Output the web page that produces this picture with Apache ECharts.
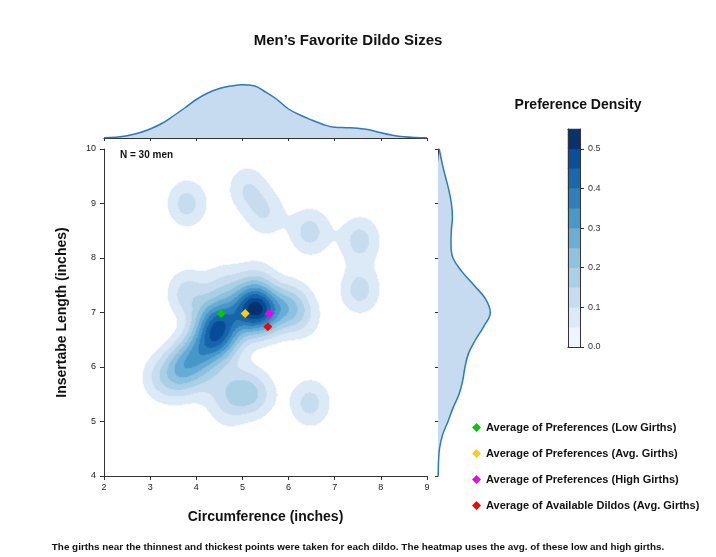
<!DOCTYPE html>
<html>
<head>
<meta charset="utf-8">
<title>Men’s Favorite Dildo Sizes</title>
<script src="https://cdn.jsdelivr.net/npm/echarts@6/dist/echarts.min.js"></script>
<style>
  html, body { margin: 0; padding: 0; background: #fff; }
  #chart { width: 716px; height: 557px; }
</style>
</head>
<body>
<div id="chart"></div>
<script>
// ---- values ----

// estimated responses: [girth (in), insertable length (in), weight]
const responses = [
  // isolated picks
  [3.8, 9.0, 2.2],
  [5.1, 9.28, 1.7],
  [5.5, 8.82, 1.7],
  [6.47, 8.48, 2.2],
  [7.55, 8.33, 2.2],
  [7.55, 7.41, 2.2],
  [6.47, 5.34, 2.2],
  // main cluster, right core
  [5.12, 7.05, 3.6],
  [5.48, 7.0, 3.6],
  [5.3, 7.1, 2.8],
  // left core
  [4.35, 6.87, 2.6],
  [4.6, 6.87, 2.6],
  [4.35, 6.5, 2.6],
  [4.6, 6.5, 2.6],
  // arm towards lower left
  [4.05, 6.25, 3],
  [3.7, 6.0, 3.2],
  [3.2, 5.8, 1.6],
  [3.6, 5.65, 0.8],
  // upper edge and right shoulder
  [3.8, 7.35, 2.2],
  [4.6, 7.5, 1.5],
  [5.3, 7.55, 1.5],
  [6.05, 7.1, 3.2],
  [6.4, 6.85, 0.8],
  // lower group
  [4.3, 5.7, 1],
  [4.9, 5.58, 2],
  [5.3, 5.5, 2],
  [4.65, 5.2, 1],
]
const sampleSize = 30
const bandwidth = 0.31

// marginal densities (relative), read at 0.25 in steps
const girthSteps = [2, 2.25, 2.5, 2.75, 3, 3.25, 3.5, 3.75, 4, 4.25, 4.5, 4.75, 5, 5.25, 5.5, 5.75,
  6, 6.25, 6.5, 6.75, 7, 7.25, 7.5, 7.75, 8, 8.25, 8.5, 8.75, 9]
const girthMarginal = [0.3, 0.8, 2.2, 5, 9, 14.5, 22, 30, 38.5, 45, 49.5, 52, 53.3, 52.3, 46, 38.5,
  29, 23, 18, 13.5, 10.7, 10.3, 9.8, 8.2, 5.2, 2.8, 1.2, 0.5, 0.3]
const lengthSteps = ['4', '4.25', '4.5', '4.75', '5', '5.25', '5.5', '5.75', '6', '6.25', '6.5', '6.75',
  '7', '7.25', '7.5', '7.75', '8', '8.25', '8.5', '8.75', '9', '9.25', '9.5', '9.75', '10']
const lengthMarginal = [0.2, 0.5, 1.5, 4.5, 10, 15, 21, 24.7, 27, 30.5, 37.5, 46,
  52.3, 47.5, 36, 24, 15, 13, 13.3, 14.4, 13.4, 10.8, 7.3, 4, 1.2]

// averages shown as diamonds
const averageNames = [
  'Average of Preferences (Low Girths)',
  'Average of Preferences (Avg. Girths)',
  'Average of Preferences (High Girths)',
  'Average of Available Dildos (Avg. Girths)',
]
const averageGirth = [4.54, 5.06, 5.58, 5.55]
const averageLength = [6.98, 6.98, 6.98, 6.74]
const averageColors = ['#00cc00', '#ffcc11', '#ee00ee', '#ff0000']

// density levels of the colour bar
const levelEdges = [0, 0.05, 0.1, 0.15, 0.2, 0.25, 0.3, 0.35, 0.4, 0.45, 0.5, 0.55]
const levelColors = ['#eef5fc', '#dce9f6', '#c8dcf0', '#abd0e6', '#8fc2de', '#6aaed6',
  '#4a98c9', '#2f7fbc', '#1967ad', '#0a4f99', '#08336e']
const colorbarTicks = [0, 0.1, 0.2, 0.3, 0.4, 0.5]
const threshold = 0.05

// ---- kde grid ----
const nx = 323
const ny = 327

function density(gx, gy) {
  let s = 0
  for (const [px, py, w] of responses) {
    const dx = gx - px
    const dy = gy - py
    s += w * Math.exp(-(dx * dx + dy * dy) / (2 * bandwidth * bandwidth))
  }
  return s / (sampleSize * 2 * Math.PI * bandwidth * bandwidth)
}

const heatData = []
for (let i = 0; i < nx; i++) {
  const gx = 2 + (i + 0.5) * 7 / nx
  for (let j = 0; j < ny; j++) {
    const gy = 4 + (j + 0.5) * 6 / ny
    const d = density(gx, gy)
    if (d >= threshold) heatData.push([i, j, d])
  }
}
const xCells = Array.from({ length: nx }, (_, i) => i)
const yCells = Array.from({ length: ny }, (_, j) => j)
const levelCells = levelColors.map((_, i) => i)
const colorbarData = levelColors.map((_, i) => [0, i, (levelEdges[i] + levelEdges[i + 1]) / 2])

const font = 'Liberation Sans, Arial, sans-serif'
const axisColor = '#333'
const lineBlue = '#2b7bba'
const fillBlue = '#c6dbef'

const hidden = { show: false }
const chart = echarts.init(document.getElementById('chart'))

const option = {
  animation: false,
  textStyle: { fontFamily: font },
  title: [
    { text: 'Men’s Favorite Dildo Sizes', left: 348, top: 33, textAlign: 'center', padding: 0,
      textStyle: { fontSize: 15, fontWeight: 'bold', color: '#111' } },
    { text: 'Preference Density', left: 578, top: 98, textAlign: 'center', padding: 0,
      textStyle: { fontSize: 14, fontWeight: 'bold', color: '#111' } },
    { text: 'N = 30 men', left: 120, top: 150, padding: 0,
      textStyle: { fontSize: 10, fontWeight: 'bold', color: '#111' } },
    { text: 'The girths near the thinnest and thickest points were taken for each dildo. The heatmap uses the avg. of these low and high girths.',
      left: 358, top: 542, textAlign: 'center', padding: 0,
      textStyle: { fontSize: 9.9, fontWeight: 'bold', color: '#111' } },
  ],
  legend: {
    orient: 'vertical', left: 472, top: 422, padding: 0, itemGap: 15,
    itemWidth: 9, itemHeight: 9, icon: 'diamond',
    textStyle: { fontSize: 11, fontWeight: 'bold', color: '#111' },
    data: averageNames,
  },
  visualMap: {
    type: 'piecewise', show: false, seriesIndex: [0, 1], dimension: 2,
    pieces: levelColors.map((c, i) => i === levelColors.length - 1
      ? { gte: levelEdges[i], lte: 1, color: c }
      : { gte: levelEdges[i], lt: levelEdges[i + 1], color: c }),
    outOfRange: { color: 'rgba(0,0,0,0)' },
  },
  grid: [
    { left: 104, top: 149, width: 323, height: 327 },
    { left: 104, top: 80, width: 323, height: 58 },
    { left: 438, top: 149, width: 60, height: 327 },
    { left: 568, top: 129, width: 12, height: 218 },
  ],
  xAxis: [
    {
      gridIndex: 0, type: 'value', min: 2, max: 9, interval: 1,
      name: 'Circumference (inches)', nameLocation: 'middle', nameGap: 34,
      nameTextStyle: { fontSize: 14, fontWeight: 'bold', color: '#111' },
      axisLine: { onZero: false, lineStyle: { color: axisColor } },
      axisTick: { length: 4, lineStyle: { color: axisColor } },
      axisLabel: { fontSize: 9, color: '#222', margin: 7 },
      splitLine: hidden,
    },
    { gridIndex: 0, type: 'category', data: xCells, position: 'top', show: false },
    {
      gridIndex: 1, type: 'value', min: 2, max: 9, interval: 1,
      axisLine: { onZero: false, lineStyle: { color: axisColor } },
      axisTick: { length: 3, lineStyle: { color: axisColor } },
      axisLabel: hidden, splitLine: hidden,
    },
    { gridIndex: 2, type: 'value', min: 0, max: 60, show: false },
    { gridIndex: 3, type: 'category', data: [''], position: 'bottom', z: 10,
      axisLine: { lineStyle: { color: axisColor } }, axisTick: hidden, axisLabel: hidden },
    { gridIndex: 3, type: 'category', data: [''], position: 'top', z: 10,
      axisLine: { lineStyle: { color: axisColor } }, axisTick: hidden, axisLabel: hidden },
  ],
  yAxis: [
    {
      gridIndex: 0, type: 'value', min: 4, max: 10, interval: 1,
      name: 'Insertabe Length (inches)', nameLocation: 'middle', nameGap: 35,
      nameTextStyle: { fontSize: 14, fontWeight: 'bold', color: '#111' },
      axisLine: { show: true, onZero: false, lineStyle: { color: axisColor } },
      axisTick: { show: true, length: 4, lineStyle: { color: axisColor } },
      axisLabel: { fontSize: 9, color: '#222', margin: 8 },
      splitLine: hidden,
    },
    { gridIndex: 0, type: 'category', data: yCells, position: 'right', show: false },
    { gridIndex: 1, type: 'value', min: 0, max: 58, show: false },
    {
      gridIndex: 2, type: 'category', data: lengthSteps, boundaryGap: false, position: 'left',
      axisLine: { show: true, lineStyle: { color: axisColor } },
      axisTick: { show: true, interval: 3, length: 3, lineStyle: { color: axisColor } },
      axisLabel: hidden, splitLine: hidden,
    },
    { gridIndex: 3, type: 'category', data: levelCells, position: 'left', z: 10,
      axisLine: { show: true, lineStyle: { color: axisColor } }, axisTick: hidden, axisLabel: hidden },
    {
      gridIndex: 3, type: 'value', min: 0, max: 0.55, position: 'right', z: 10,
      axisLine: { show: true, lineStyle: { color: axisColor } },
      axisTick: { show: true, length: 4, customValues: colorbarTicks, lineStyle: { color: axisColor } },
      axisLabel: { fontSize: 9, color: '#333', margin: 8, customValues: colorbarTicks,
        formatter: (v) => v.toFixed(1) },
      splitLine: hidden,
    },
  ],
  series: [
    {
      type: 'heatmap', xAxisIndex: 1, yAxisIndex: 1, data: heatData,
      progressive: 0, emphasis: { disabled: true }, silent: true,
    },
    {
      type: 'heatmap', xAxisIndex: 4, yAxisIndex: 4, data: colorbarData,
      progressive: 0, emphasis: { disabled: true }, silent: true,
    },
    ...averageNames.map((name, i) => ({
      name, type: 'scatter', xAxisIndex: 0, yAxisIndex: 0,
      symbol: 'diamond', symbolSize: 9, z: 5,
      itemStyle: { color: averageColors[i], opacity: 1 },
      data: [[averageGirth[i], averageLength[i]]],
    })),
    {
      type: 'line', xAxisIndex: 2, yAxisIndex: 2, smooth: 0.4, symbol: 'none',
      lineStyle: { color: lineBlue, width: 1.5 },
      areaStyle: { color: fillBlue, opacity: 1 },
      data: girthSteps.map((g, i) => [g, girthMarginal[i]]),
    },
    {
      type: 'line', xAxisIndex: 3, yAxisIndex: 3, smooth: 0.4, symbol: 'none',
      lineStyle: { color: lineBlue, width: 1.5 },
      areaStyle: { color: fillBlue, opacity: 1 },
      data: lengthMarginal,
    },
  ],
}

chart.setOption(option)
</script>
</body>
</html>
